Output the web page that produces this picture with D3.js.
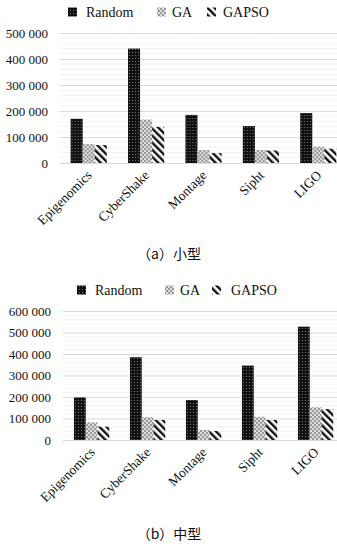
<!DOCTYPE html>
<html>
<head>
<meta charset="utf-8">
<script src="https://cdn.jsdelivr.net/npm/d3@7"></script>
<style>
  body { margin: 0; background: #fff; }
  text { font-family: "Liberation Serif", "DejaVu Serif", serif; fill: #111; }
  .cap { font-family: "Noto Sans CJK SC", sans-serif; }
</style>
</head>
<body>
<svg id="chart" width="337" height="544"></svg>
<script>
const categories = ["Epigenomics", "CyberShake", "Montage", "Sipht", "LIGO"];
const seriesNames = ["Random", "GA", "GAPSO"];

// (a) small workflows
const smallRandom = [170000, 440000, 185000, 142000, 192000];
const smallGA     = [73000, 167000, 50000, 50000, 63000];
const smallGAPSO  = [69000, 139000, 38000, 48000, 55000];
const smallTicks  = [0, 100000, 200000, 300000, 400000, 500000];

// (b) medium workflows
const midRandom = [198000, 385000, 186000, 346000, 527000];
const midGA     = [82000, 106000, 47000, 108000, 152000];
const midGAPSO  = [62000, 93000, 42000, 93000, 144000];
const midTicks  = [0, 100000, 200000, 300000, 400000, 500000, 600000];

const svg = d3.select("#chart");

// fill patterns
const defs = svg.append("defs");
const pRandom = defs.append("pattern").attr("id", "pRandom")
    .attr("patternUnits", "userSpaceOnUse").attr("width", 3).attr("height", 3);
pRandom.append("rect").attr("width", 3).attr("height", 3).attr("fill", "#111");
pRandom.append("rect").attr("x", 1).attr("y", 1).attr("width", 1).attr("height", 1).attr("fill", "#777");

const pGA = defs.append("pattern").attr("id", "pGA")
    .attr("patternUnits", "userSpaceOnUse").attr("width", 4).attr("height", 4);
pGA.append("rect").attr("width", 4).attr("height", 4).attr("fill", "#ddd");
pGA.append("rect").attr("width", 2).attr("height", 2).attr("fill", "#999");
pGA.append("rect").attr("x", 2).attr("y", 2).attr("width", 2).attr("height", 2).attr("fill", "#999");

// "\" stripes
const pGAPSO = defs.append("pattern").attr("id", "pGAPSO")
    .attr("patternUnits", "userSpaceOnUse").attr("width", 5).attr("height", 5)
    .attr("patternTransform", "rotate(-45)");
pGAPSO.append("rect").attr("width", 5).attr("height", 5).attr("fill", "#fff");
pGAPSO.append("rect").attr("width", 2.4).attr("height", 5).attr("fill", "#111");

const fills = { Random: "url(#pRandom)", GA: "url(#pGA)", GAPSO: "url(#pGAPSO)" };
const fmt = d => d3.format(",")(d).replace(/,/g, " ");

function drawChart(cfg) {
    const g = svg.append("g");
    const x = d3.scaleBand().domain(categories)
        .range([cfg.x0, cfg.x1]).paddingInner(0.37).paddingOuter(0.185);
    const xs = d3.scaleBand().domain(seriesNames).range([0, x.bandwidth()]);
    const y = d3.scaleLinear().domain([0, d3.max(cfg.ticks)]).range([cfg.yBottom, cfg.yTop]);

    // minor gridlines
    const minor = d3.range(0, d3.max(cfg.ticks), 20000).filter(v => v % 100000 !== 0);
    g.selectAll(".minor").data(minor).enter().append("line")
        .attr("x1", cfg.gx0).attr("x2", 337)
        .attr("y1", d => y(d)).attr("y2", d => y(d))
        .attr("stroke", "#f3f3f3").attr("stroke-width", 1);

    // y axis with gridlines
    g.append("g")
        .attr("transform", "translate(" + cfg.gx0 + ",0)")
        .call(d3.axisLeft(y).tickValues(cfg.ticks).tickFormat(fmt)
            .tickSize(-(337 - cfg.gx0)).tickPadding(12))
        .call(a => a.select(".domain").remove())
        .call(a => a.selectAll(".tick line").attr("stroke", "#d9d9d9"))
        .call(a => a.selectAll(".tick text")
            .style("font-size", "13px").style("font-family", "Liberation Serif, serif").attr("fill", "#111"));

    const rows = categories.map((c, i) => ({
        cat: c, Random: cfg.random[i], GA: cfg.ga[i], GAPSO: cfg.gapso[i]
    }));

    const groups = g.selectAll(".grp").data(rows).enter().append("g")
        .attr("transform", d => "translate(" + x(d.cat) + ",0)");
    groups.selectAll("rect")
        .data(d => seriesNames.map(s => ({ s: s, v: d[s] })))
        .enter().append("rect")
        .attr("x", d => xs(d.s))
        .attr("y", d => y(d.v))
        .attr("width", xs.bandwidth())
        .attr("height", d => cfg.yBottom - y(d.v))
        .attr("fill", d => fills[d.s]);

    // category labels
    g.selectAll(".xlab").data(categories).enter().append("text")
        .attr("text-anchor", "end")
        .attr("transform", d => "translate(" + (x(d) + x.bandwidth() / 2 + 4) + "," + (cfg.yBottom + 13) + ") rotate(-45)")
        .style("font-size", "13.5px")
        .text(d => d);

    // legend
    const lg = g.append("g");
    cfg.legend.forEach((p, i) => {
        const s = seriesNames[i];
        lg.append("rect").attr("x", p[0]).attr("y", cfg.legendY - 4.5)
            .attr("width", 9).attr("height", 9).attr("fill", fills[s]);
        lg.append("text").attr("x", p[1]).attr("y", cfg.legendY + 4.5)
            .style("font-size", "14px").text(s);
    });

    svg.append("text").attr("class", "cap")
        .attr("x", 169).attr("y", cfg.capY)
        .attr("text-anchor", "middle")
        .style("font-size", "14px")
        .text(cfg.caption);
}

drawChart({
    random: smallRandom, ga: smallGA, gapso: smallGAPSO, ticks: smallTicks,
    x0: 60, x1: 347, gx0: 60, yTop: 33, yBottom: 163,
    legendY: 12, legend: [[68, 86], [157, 172], [207, 223]],
    caption: "（a）小型", capY: 259
});

drawChart({
    random: midRandom, ga: midGA, gapso: midGAPSO, ticks: midTicks,
    x0: 63.6, x1: 343.6, gx0: 63, yTop: 311, yBottom: 440,
    legendY: 290, legend: [[77, 95], [165, 180], [212, 231]],
    caption: "（b）中型", capY: 539
});
</script>
</body>
</html>
